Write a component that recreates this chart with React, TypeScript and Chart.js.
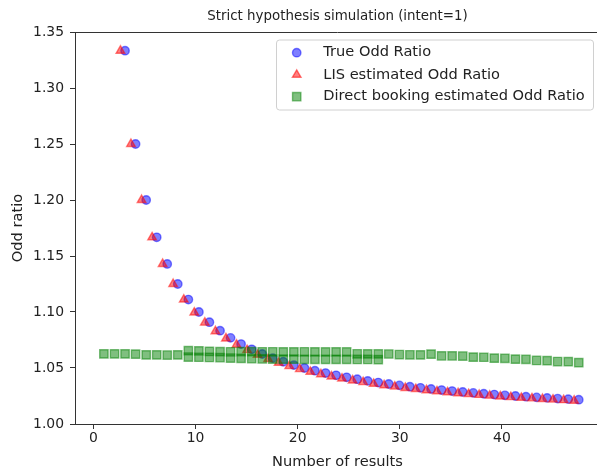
import React, { useEffect, useRef } from "react";
import { Chart, registerables } from "chart.js";

Chart.register(...registerables);

const xTicks = [0, 10, 20, 30, 40];
const yTicks = [1.0, 1.05, 1.1, 1.15, 1.2, 1.25, 1.3, 1.35];

const trueX = [3.1, 4.13, 5.17, 6.2, 7.23, 8.26, 9.3, 10.33, 11.36, 12.4, 13.43, 14.46, 15.5, 16.53, 17.56, 18.59, 19.63, 20.66, 21.69, 22.73, 23.76, 24.79, 25.83, 26.86, 27.89, 28.92, 29.96, 30.99, 32.02, 33.06, 34.09, 35.12, 36.16, 37.19, 38.22, 39.25, 40.29, 41.32, 42.35, 43.39, 44.42, 45.45, 46.49, 47.52];
const trueY = [1.3333, 1.25, 1.2, 1.1667, 1.1429, 1.125, 1.1111, 1.1, 1.0909, 1.0833, 1.0769, 1.0714, 1.0667, 1.0625, 1.0588, 1.0556, 1.0526, 1.05, 1.0476, 1.0455, 1.0435, 1.0417, 1.04, 1.0385, 1.037, 1.0357, 1.0345, 1.0333, 1.0323, 1.0313, 1.0303, 1.0294, 1.0286, 1.0278, 1.027, 1.0263, 1.0256, 1.025, 1.0244, 1.0238, 1.0233, 1.0227, 1.0222, 1.0217];

const lisX = [2.65, 3.68, 4.72, 5.75, 6.78, 7.81, 8.85, 9.88, 10.91, 11.95, 12.98, 14.01, 15.05, 16.08, 17.11, 18.14, 19.18, 20.21, 21.24, 22.28, 23.31, 24.34, 25.38, 26.41, 27.44, 28.47, 29.51, 30.54, 31.57, 32.61, 33.64, 34.67, 35.71, 36.74, 37.77, 38.8, 39.84, 40.87, 41.9, 42.94, 43.97, 45.0, 46.04, 47.07];
const lisY = [1.3333, 1.25, 1.2, 1.1667, 1.1429, 1.125, 1.1111, 1.0995, 1.0905, 1.0828, 1.0764, 1.0708, 1.066, 1.0618, 1.058, 1.0547, 1.0517, 1.049, 1.0466, 1.0444, 1.0424, 1.0406, 1.0389, 1.0374, 1.0359, 1.0346, 1.0334, 1.0322, 1.0312, 1.0302, 1.0292, 1.0283, 1.0275, 1.0267, 1.026, 1.0253, 1.0246, 1.024, 1.0234, 1.0229, 1.0223, 1.0218, 1.0213, 1.0208];

const directX = [1.03, 2.07, 3.1, 4.13, 5.17, 6.2, 7.23, 8.26, 9.3, 10.33, 11.36, 12.4, 13.43, 14.46, 15.5, 16.53, 17.56, 18.59, 19.63, 20.66, 21.69, 22.73, 23.76, 24.79, 25.83, 26.86, 27.89, 28.92, 29.96, 30.99, 32.02, 33.06, 34.09, 35.12, 36.16, 37.19, 38.22, 39.25, 40.29, 41.32, 42.35, 43.39, 44.42, 45.45, 46.49, 47.52];
const directY = [1.0626, 1.0626, 1.0626, 1.0624, 1.0617, 1.0617, 1.0616, 1.0617, 1.0655, 1.0653, 1.0648, 1.0646, 1.0645, 1.0646, 1.0646, 1.0645, 1.0645, 1.0644, 1.0644, 1.0645, 1.0644, 1.0643, 1.0644, 1.0643, 1.0627, 1.0626, 1.0626, 1.0625, 1.062, 1.0618, 1.0617, 1.0624, 1.0608, 1.0608, 1.0607, 1.0597, 1.0596, 1.0588, 1.0587, 1.0579, 1.0578, 1.0567, 1.0566, 1.0558, 1.0557, 1.0548];
const directLowX = [9.3, 10.33, 11.36, 12.4, 13.43, 14.46, 15.5, 16.53, 17.56, 18.59, 19.63, 20.66, 21.69, 22.73, 23.76, 24.79, 25.83, 26.86, 27.89];
const directLowY = [1.0598, 1.0596, 1.0594, 1.0592, 1.0589, 1.0586, 1.0583, 1.0581, 1.058, 1.0579, 1.0579, 1.0578, 1.0578, 1.0577, 1.0577, 1.0577, 1.0576, 1.0576, 1.0575];

const seriesNames = ["True Odd Ratio", "LIS estimated Odd Ratio", "Direct booking estimated Odd Ratio"];
const titleText = "Strict hypothesis simulation (intent=1)";
const xLabel = "Number of results";
const yLabel = "Odd ratio";

const BLUE = "rgba(0,0,255,0.5)";
const RED = "rgba(255,0,0,0.5)";
const GREEN = "rgba(0,128,0,0.5)";
const FONT = "'DejaVu Sans', sans-serif";
const TXT = "#222";
const AX = "#333";

const zip = (xs: number[], ys: number[]) => xs.map((x, i) => ({ x, y: ys[i] }));

function drawMarker(ctx: CanvasRenderingContext2D, kind: string, x: number, y: number, color: string) {
  ctx.save();
  ctx.fillStyle = color;
  ctx.strokeStyle = color;
  ctx.lineWidth = 1.4;
  ctx.beginPath();
  if (kind === "circle") {
    ctx.arc(x, y, 4.2, 0, Math.PI * 2);
  } else if (kind === "triangle") {
    const r = 5;
    ctx.moveTo(x, y - r);
    ctx.lineTo(x + r * 0.866, y + r * 0.5);
    ctx.lineTo(x - r * 0.866, y + r * 0.5);
    ctx.closePath();
  } else {
    const s = 4.15;
    ctx.rect(x - s, y - s, 2 * s, 2 * s);
  }
  ctx.fill();
  ctx.stroke();
  ctx.restore();
}

const decorPlugin = {
  id: "decor",
  afterDraw(chart: any) {
    const ctx: CanvasRenderingContext2D = chart.ctx;
    const a = chart.chartArea;
    ctx.save();
    // keep the far right strip of the plot interior clean (the right spine lies beyond the crop)
    ctx.fillStyle = "#fff";
    ctx.fillRect(594, Math.round(a.top) + 1, 40, Math.round(a.bottom) - Math.round(a.top) - 1);
    // top spine
    ctx.strokeStyle = AX;
    ctx.lineWidth = 1;
    ctx.beginPath();
    ctx.moveTo(a.left, Math.round(a.top) + 0.5);
    ctx.lineTo(a.right, Math.round(a.top) + 0.5);
    ctx.stroke();

    const cx = 337.5;
    ctx.fillStyle = TXT;
    ctx.textAlign = "center";
    ctx.textBaseline = "alphabetic";
    ctx.font = `13.4px ${FONT}`;
    ctx.fillText(titleText, cx, 19.5);

    ctx.font = `14.6px ${FONT}`;
    ctx.fillText(xLabel, cx, 465.5);

    ctx.save();
    ctx.translate(22, (a.top + a.bottom) / 2);
    ctx.rotate(-Math.PI / 2);
    ctx.fillText(yLabel, 0, 0);
    ctx.restore();

    // legend
    const lx = 276, ly = 39.5, lw = 317, lh = 70;
    ctx.beginPath();
    ctx.roundRect(lx + 0.5, ly + 0.5, lw, lh, 3);
    ctx.fillStyle = "rgba(255,255,255,0.8)";
    ctx.fill();
    ctx.strokeStyle = "#d0d0d0";
    ctx.lineWidth = 1;
    ctx.stroke();
    const kinds = ["circle", "triangle", "square"];
    const colors = [BLUE, RED, GREEN];
    const rows = [52.7, 74.8, 96.7];
    ctx.font = `14.6px ${FONT}`;
    ctx.textAlign = "left";
    ctx.textBaseline = "middle";
    for (let i = 0; i < 3; i++) {
      drawMarker(ctx, kinds[i], 296.7, rows[i], colors[i]);
      ctx.fillStyle = TXT;
      ctx.fillText(seriesNames[i], 323.3, rows[i]);
    }
    ctx.restore();
  },
};

export default function App() {
  const ref = useRef<HTMLCanvasElement | null>(null);
  useEffect(() => {
    if (!ref.current) return;
    const chart = new Chart(ref.current, {
      type: "scatter",
      data: {
        datasets: [
          {
            label: seriesNames[0],
            data: zip(trueX, trueY),
            pointStyle: "circle",
            pointRadius: 4.2,
            borderWidth: 1.4,
            backgroundColor: BLUE,
            borderColor: BLUE,
            order: 2,
          },
          {
            label: seriesNames[1],
            data: zip(lisX, lisY),
            pointStyle: "triangle",
            pointRadius: 5,
            borderWidth: 1.4,
            backgroundColor: RED,
            borderColor: RED,
            order: 1,
          },
          {
            label: seriesNames[2],
            data: [...zip(directX, directY), ...zip(directLowX, directLowY)],
            pointStyle: "rect",
            pointRadius: 5.9,
            borderWidth: 1.4,
            backgroundColor: GREEN,
            borderColor: GREEN,
            order: 0,
          },
        ],
      },
      options: {
        animation: false,
        responsive: false,
        devicePixelRatio: 1,
        layout: { padding: { top: 32, right: 20, left: 0, bottom: 0 } },
        plugins: { legend: { display: false }, title: { display: false }, tooltip: { enabled: false } },
        events: [],
        scales: {
          x: {
            type: "linear",
            min: -1.8,
            max: 49.6,
            afterBuildTicks: (s: any) => {
              s.ticks = xTicks.map((v) => ({ value: v }));
            },
            afterFit: (s: any) => {
              s.height = 46;
              s.paddingLeft = 0;
              s.paddingRight = 0;
            },
            grid: { display: true, drawOnChartArea: false, drawTicks: true, tickLength: 5, tickColor: AX, tickWidth: 1 },
            border: { display: true, color: AX, width: 1 },
            ticks: {
              padding: 1,
              color: TXT,
              font: { family: FONT, size: 13.9 },
              maxRotation: 0,
              callback: (v: any) => String(v),
            },
          },
          y: {
            type: "linear",
            min: 1.0,
            max: 1.35,
            afterBuildTicks: (s: any) => {
              s.ticks = yTicks.map((v) => ({ value: v }));
            },
            afterFit: (s: any) => {
              s.width = 75;
              s.paddingTop = 0;
              s.paddingBottom = 0;
            },
            grid: { display: true, drawOnChartArea: false, drawTicks: true, tickLength: 5, tickColor: AX, tickWidth: 1 },
            border: { display: true, color: AX, width: 1 },
            ticks: {
              padding: 6,
              color: TXT,
              font: { family: FONT, size: 13.9 },
              callback: (v: any) => Number(v).toFixed(2),
            },
          },
        },
      },
      plugins: [decorPlugin],
    });
    return () => chart.destroy();
  }, []);
  return (
    <div style={{ position: "fixed", left: 0, top: 0, width: 597, height: 470, overflow: "hidden", background: "#fff" }}>
      <canvas ref={ref} width={620} height={470} style={{ width: 620, height: 470, display: "block" }} />
    </div>
  );
}
